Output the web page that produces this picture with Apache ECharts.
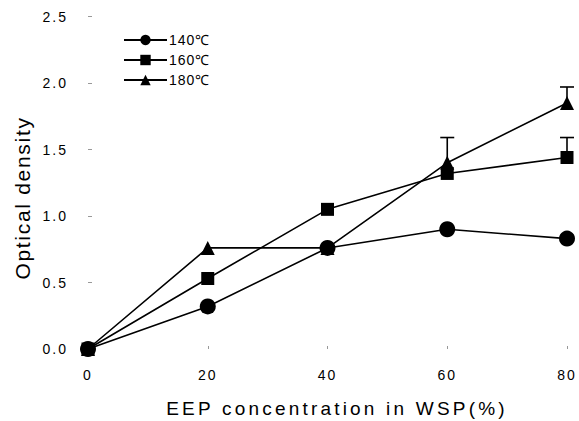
<!DOCTYPE html>
<html><head><meta charset="utf-8">
<script src="https://cdn.jsdelivr.net/npm/echarts@6/dist/echarts.min.js"></script>
<style>html,body{margin:0;padding:0;background:#fff}#c{width:579px;height:421px}</style>
</head><body><div id="c"></div>
<script>
const xValues = [0, 20, 40, 60, 80];
const s140 = [0, 0.32, 0.76, 0.90, 0.83];
const s160 = [0, 0.53, 1.05, 1.32, 1.44];
const s180 = [0, 0.76, 0.76, 1.40, 1.85];
// upper error-bar ends [x, value, top]
const err160 = [[80, 1.44, 1.59]];
const err180 = [[60, 1.40, 1.59], [80, 1.85, 1.97]];
const yTicks = ['0.0','0.5','1.0','1.5','2.0','2.5'];
const xTitle = 'EEP concentration in WSP(%)';
const yTitle = 'Optical density';
const names = ['140℃', '160℃', '180℃'];

const font = 'Liberation Sans, Arial, sans-serif';
const pair = (arr) => xValues.map((x, i) => [x, arr[i]]);
function errSeries(data) {
  return {
    type: 'custom', silent: true, z: 1,
    data: data,
    renderItem: function (params, api) {
      const p0 = api.coord([api.value(0), api.value(1)]);
      const p1 = api.coord([api.value(0), api.value(2)]);
      const style = { stroke: '#000', lineWidth: 1.6 };
      return { type: 'group', children: [
        { type: 'line', shape: { x1: p0[0], y1: p0[1], x2: p1[0], y2: p1[1] }, style: style },
        { type: 'line', shape: { x1: p1[0] - 7, y1: p1[1], x2: p1[0] + 7, y2: p1[1] }, style: style }
      ]};
    }
  };
}
const lineBase = { type: 'line', z: 3, lineStyle: { color: '#000', width: 1.6 }, itemStyle: { color: '#000' }, animation: false };
const chart = echarts.init(document.getElementById('c'), null, { renderer: 'svg' });
chart.setOption({
  animation: false,
  grid: { left: 88, right: 12, top: 16.5, bottom: 72 },
  legend: {
    orient: 'vertical', left: 118, top: 28, itemGap: 6, itemWidth: 43, itemHeight: 13,
    textStyle: { fontFamily: font, fontSize: 14, color: '#000', padding: [0, 0, 0, -3] },
    data: names
  },
  graphic: [
    { type: 'text', x: 337, y: 408, style: { text: xTitle, font: '19px ' + font, fill: '#000', textAlign: 'center', textVerticalAlign: 'middle' } },
    { type: 'text', x: 22, y: 198, rotation: Math.PI / 2, style: { text: yTitle, font: '21px ' + font, fill: '#000', textAlign: 'center', textVerticalAlign: 'middle' } }
  ],
  xAxis: {
    type: 'value', min: 0, max: 80, interval: 20,
    axisLine: { show: false }, splitLine: { show: false },
    axisTick: { show: true, inside: true, length: 3, lineStyle: { color: '#999' } },
    axisLabel: { fontFamily: font, fontSize: 14, color: '#000', margin: 19 }
  },
  yAxis: {
    type: 'value', min: 0, max: 2.5, interval: 0.5,
    axisLine: { show: false }, splitLine: { show: false },
    axisTick: { show: true, inside: true, length: 4, lineStyle: { color: '#999' } },
    axisLabel: { fontFamily: font, fontSize: 14, color: '#000', margin: 20,
      formatter: (v) => yTicks[Math.round(v / 0.5)] }
  },
  series: [
    errSeries(err160),
    errSeries(err180),
    Object.assign({}, lineBase, { name: names[0], data: pair(s140), symbol: 'circle', symbolSize: 16 }),
    Object.assign({}, lineBase, { name: names[1], data: pair(s160), symbol: 'rect', symbolSize: 13 }),
    Object.assign({}, lineBase, { name: names[2], data: pair(s180), symbol: 'triangle', symbolSize: 14 })
  ]
});
// wide letter tracking as in the original print
document.querySelectorAll('#c svg text').forEach(function (t) {
  const s = t.textContent;
  let ls = 0;
  if (s === xTitle) ls = 3.2;
  else if (s === yTitle) ls = 1.7;
  else if (names.indexOf(s) >= 0) ls = 1;
  else if (/^[0-9.]+$/.test(s)) ls = 2;
  if (ls) t.style.letterSpacing = ls + 'px';
});
</script></body></html>
